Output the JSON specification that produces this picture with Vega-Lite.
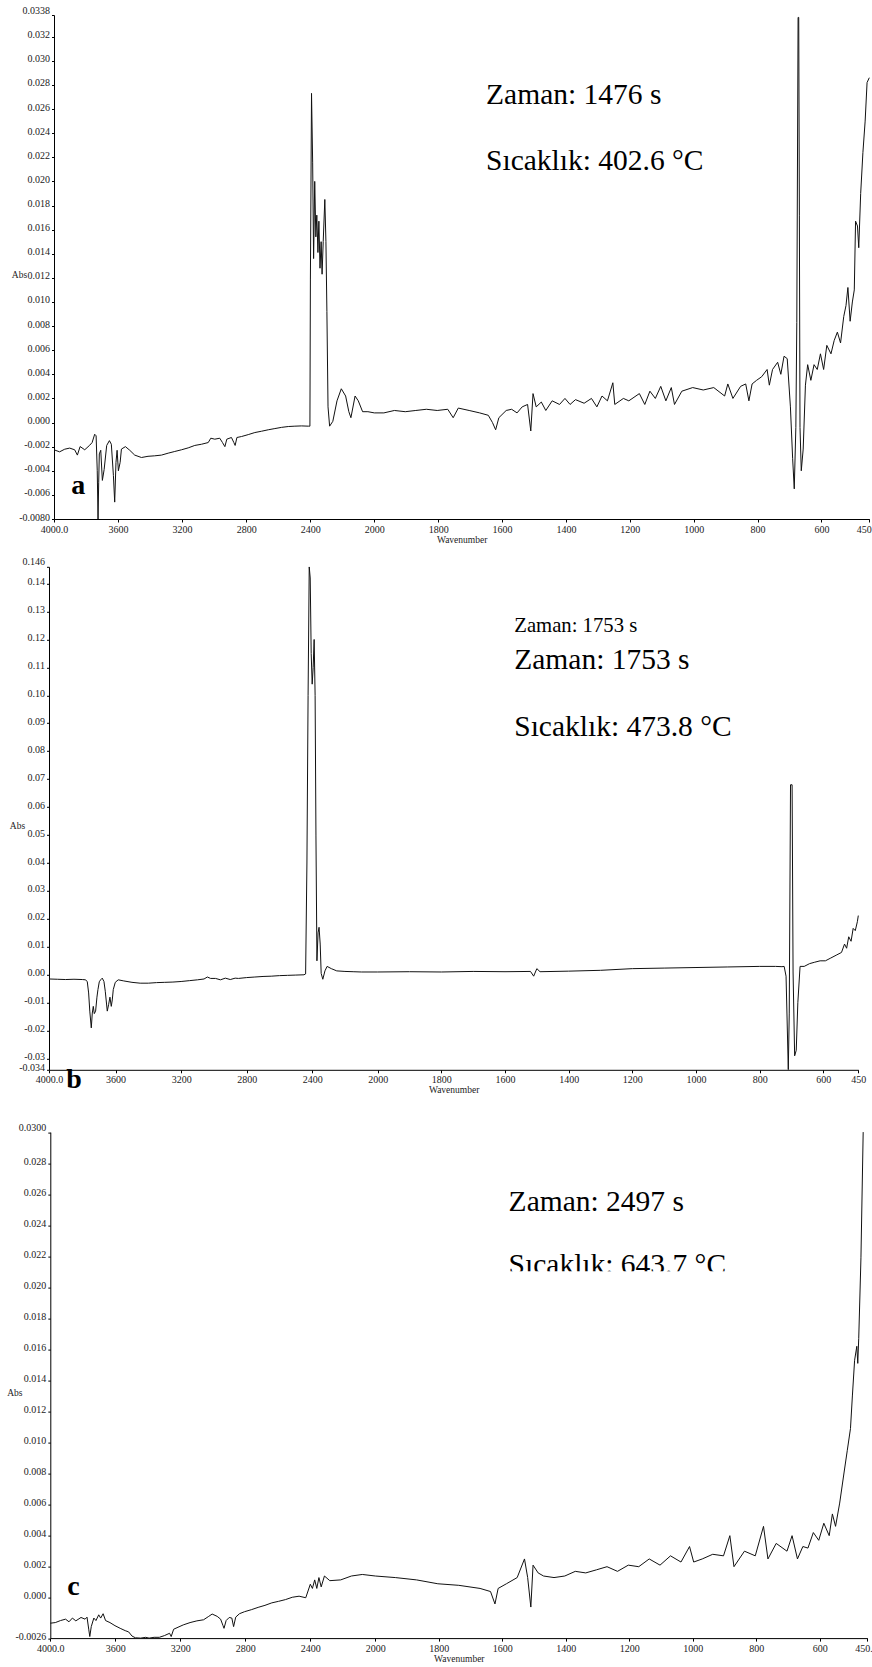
{
  "$schema": "https://vega.github.io/schema/vega-lite/v6.json",
  "background": "white",
  "padding": {"left": 6, "top": 5, "right": 0, "bottom": 0},
  "spacing": 47.8,
  "bounds": "flush",
  "config": {
    "view": {"stroke": null},
    "axis": {
      "labelFont": "Liberation Serif", "titleFont": "Liberation Serif",
      "labelFontSize": 10, "titleFontSize": 9.5, "titleFontWeight": "normal",
      "labelColor": "#222", "titleColor": "#222",
      "domainColor": "#000", "tickColor": "#000", "domainWidth": 1, "tickWidth": 1,
      "grid": false, "labelOverlap": false, "labelFlush": false, "labelBound": false
    },
    "axisX": {"tickSize": 3, "labelPadding": 2, "titlePadding": 0},
    "axisY": {"tickSize": 2.5, "labelPadding": 2, "labelBaseline": "alphabetic", "titleAngle": 0, "titleAlign": "center", "titleBaseline": "middle", "titleY": 259}
  },
  "datasets": {
    "a": [
      {"w":4000,"A":-0.00226},{"w":3965,"A":-0.00243},{"w":3933,"A":-0.00221},{"w":3902,"A":-0.00212},{"w":3871,"A":-0.00226},{"w":3854,"A":-0.0027},{"w":3837,"A":-0.00199},{"w":3808,"A":-0.00226},{"w":3777,"A":-0.00188},{"w":3762,"A":-0.00166},{"w":3746,"A":-0.00097},{"w":3737,"A":-0.0011},{"w":3730,"A":-0.004},{"w":3725,"A":-0.008},{"w":3721,"A":-0.005},{"w":3717,"A":-0.0026},{"w":3708,"A":-0.0023},{"w":3698,"A":-0.0048},{"w":3687,"A":-0.0039},{"w":3671,"A":-0.0019},{"w":3654,"A":-0.0015},{"w":3642,"A":-0.0018},{"w":3629,"A":-0.0044},{"w":3621,"A":-0.0066},{"w":3613,"A":-0.0033},{"w":3606,"A":-0.0023},{"w":3598,"A":-0.004},{"w":3587,"A":-0.0033},{"w":3579,"A":-0.0022},{"w":3554,"A":-0.002},{"w":3527,"A":-0.0023},{"w":3496,"A":-0.0027},{"w":3454,"A":-0.0029},{"w":3413,"A":-0.0028},{"w":3371,"A":-0.00276},{"w":3329,"A":-0.0027},{"w":3287,"A":-0.00254},{"w":3246,"A":-0.0024},{"w":3204,"A":-0.00226},{"w":3162,"A":-0.0021},{"w":3121,"A":-0.0019},{"w":3079,"A":-0.0018},{"w":3037,"A":-0.00166},{"w":3021,"A":-0.0013},{"w":2996,"A":-0.00138},{"w":2965,"A":-0.0013},{"w":2948,"A":-0.00166},{"w":2933,"A":-0.002},{"w":2921,"A":-0.00138},{"w":2892,"A":-0.00124},{"w":2877,"A":-0.00166},{"w":2869,"A":-0.0019},{"w":2858,"A":-0.00124},{"w":2829,"A":-0.00116},{"w":2787,"A":-0.001},{"w":2746,"A":-0.00083},{"w":2704,"A":-0.00072},{"w":2662,"A":-0.0006},{"w":2621,"A":-0.0005},{"w":2579,"A":-0.0004},{"w":2537,"A":-0.00033},{"w":2496,"A":-0.0003},{"w":2454,"A":-0.00028},{"w":2412,"A":-0.0003},{"w":2402,"A":-0.0003},
      {"w":2399,"A":0.0119},{"w":2392,"A":0.0273},{"w":2385,"A":0.0216},{"w":2379,"A":0.0136},{"w":2372,"A":0.02},{"w":2365,"A":0.0154},{"w":2359,"A":0.0172},{"w":2352,"A":0.0141},{"w":2346,"A":0.0167},{"w":2339,"A":0.0128},{"w":2332,"A":0.015},{"w":2326,"A":0.0123},{"w":2319,"A":0.015},{"w":2309,"A":0.0185},{"w":2302,"A":0.015},{"w":2296,"A":0.0092},{"w":2289,"A":0.0013},{"w":2279,"A":-0.0003},{"w":2259,"A":0.0001},{"w":2233,"A":0.0018},{"w":2206,"A":0.0028},{"w":2179,"A":0.0022},{"w":2159,"A":0.0009},{"w":2146,"A":0.0004},{"w":2120,"A":0.0022},{"w":2100,"A":0.0018},{"w":2073,"A":0.0009},{"w":2040,"A":0.0009},{"w":2000,"A":0.0008},
      {"w":1970,"A":0.0008},{"w":1937,"A":0.001},{"w":1903,"A":0.0009},{"w":1870,"A":0.001},{"w":1837,"A":0.0011},{"w":1803,"A":0.001},{"w":1770,"A":0.0011},{"w":1753,"A":0.0004},{"w":1737,"A":0.0012},{"w":1703,"A":0.001},{"w":1670,"A":0.0008},{"w":1643,"A":0.0006},{"w":1630,"A":0.0},{"w":1620,"A":-0.0006},{"w":1610,"A":0.0004},{"w":1587,"A":0.001},{"w":1570,"A":0.0011},{"w":1553,"A":0.0008},{"w":1537,"A":0.0013},{"w":1520,"A":0.0015},{"w":1510,"A":-0.0007},{"w":1503,"A":0.0024},{"w":1493,"A":0.0013},{"w":1477,"A":0.0017},{"w":1463,"A":0.001},{"w":1443,"A":0.0018},{"w":1420,"A":0.0015},{"w":1403,"A":0.002},{"w":1387,"A":0.0015},{"w":1370,"A":0.0019},{"w":1343,"A":0.0016},{"w":1320,"A":0.002},{"w":1303,"A":0.0013},{"w":1287,"A":0.0022},{"w":1270,"A":0.0018},{"w":1253,"A":0.0033},{"w":1247,"A":0.0015},{"w":1220,"A":0.002},{"w":1203,"A":0.0018},{"w":1170,"A":0.0024},{"w":1153,"A":0.0015},{"w":1137,"A":0.0026},{"w":1120,"A":0.002},{"w":1103,"A":0.003},{"w":1087,"A":0.0018},{"w":1070,"A":0.0029},{"w":1060,"A":0.0015},{"w":1037,"A":0.0026},{"w":1003,"A":0.0029},{"w":970,"A":0.0027},{"w":937,"A":0.0029},{"w":903,"A":0.0022},{"w":893,"A":0.0032},{"w":877,"A":0.002},{"w":853,"A":0.003},{"w":837,"A":0.0032},{"w":827,"A":0.0018},{"w":817,"A":0.0032},{"w":803,"A":0.0035},{"w":787,"A":0.0038},{"w":770,"A":0.0044},{"w":763,"A":0.0031},{"w":753,"A":0.0044},{"w":737,"A":0.005},{"w":727,"A":0.004},{"w":717,"A":0.0055},{"w":707,"A":0.0053},{"w":697,"A":0.0013},{"w":690,"A":-0.003},{"w":685,"A":-0.0055},{"w":680,"A":-0.0004},{"w":677,"A":0.0083},{"w":673,"A":0.0336},{"w":671,"A":0.0336},{"w":669,"A":0.0172},{"w":667,"A":-0.0004},{"w":663,"A":-0.004},{"w":657,"A":-0.0022},{"w":650,"A":0.0031},{"w":643,"A":0.0048},{"w":633,"A":0.0035},{"w":623,"A":0.0048},{"w":613,"A":0.0044},{"w":603,"A":0.0057},{"w":593,"A":0.0044},{"w":583,"A":0.0064},{"w":570,"A":0.0057},{"w":560,"A":0.0068},{"w":550,"A":0.0075},{"w":540,"A":0.0066},{"w":530,"A":0.0088},{"w":523,"A":0.0097},{"w":517,"A":0.0112},{"w":510,"A":0.0084},{"w":503,"A":0.01},{"w":497,"A":0.011},{"w":493,"A":0.0167},{"w":487,"A":0.0163},{"w":483,"A":0.0145},{"w":477,"A":0.019},{"w":470,"A":0.0224},{"w":463,"A":0.025},{"w":457,"A":0.0282},{"w":450,"A":0.0286}
    ],
    "b": [
      {"w":4000,"A":-0.0015},{"w":3950,"A":-0.0016},{"w":3900,"A":-0.0017},{"w":3850,"A":-0.0016},{"w":3800,"A":-0.0017},{"w":3780,"A":-0.0018},{"w":3770,"A":-0.0025},{"w":3762,"A":-0.0065},{"w":3755,"A":-0.013},{"w":3746,"A":-0.019},{"w":3740,"A":-0.0137},{"w":3734,"A":-0.0113},{"w":3728,"A":-0.0139},{"w":3720,"A":-0.013},{"w":3712,"A":-0.008},{"w":3706,"A":-0.0053},{"w":3698,"A":-0.0025},{"w":3690,"A":-0.0018},{"w":3680,"A":-0.0012},{"w":3670,"A":-0.0024},{"w":3662,"A":-0.0059},{"w":3650,"A":-0.013},{"w":3642,"A":-0.0107},{"w":3634,"A":-0.008},{"w":3626,"A":-0.0113},{"w":3620,"A":-0.009},{"w":3614,"A":-0.0053},{"w":3602,"A":-0.0027},{"w":3584,"A":-0.0018},{"w":3550,"A":-0.0022},{"w":3500,"A":-0.0027},{"w":3450,"A":-0.003},{"w":3400,"A":-0.003},{"w":3350,"A":-0.0028},{"w":3300,"A":-0.0027},{"w":3250,"A":-0.0026},{"w":3200,"A":-0.0024},{"w":3150,"A":-0.0021},{"w":3100,"A":-0.0018},{"w":3060,"A":-0.0015},{"w":3040,"A":-0.0008},{"w":3020,"A":-0.0013},{"w":2990,"A":-0.0013},{"w":2960,"A":-0.0018},{"w":2930,"A":-0.0012},{"w":2900,"A":-0.0017},{"w":2870,"A":-0.0012},{"w":2850,"A":-0.0013},{"w":2800,"A":-0.001},{"w":2750,"A":-0.0008},{"w":2700,"A":-0.0006},{"w":2650,"A":-0.0005},{"w":2600,"A":-0.0003},{"w":2550,"A":-0.0002},{"w":2500,"A":-0.0001},{"w":2450,"A":0.0},
      {"w":2440,"A":0.0003},{"w":2432,"A":0.04},{"w":2425,"A":0.1},{"w":2418,"A":0.146},{"w":2412,"A":0.142},{"w":2406,"A":0.115},{"w":2400,"A":0.104},{"w":2394,"A":0.11},{"w":2388,"A":0.12},{"w":2382,"A":0.1},{"w":2377,"A":0.05},{"w":2371,"A":0.005},{"w":2364,"A":0.015},{"w":2358,"A":0.017},{"w":2351,"A":0.011},{"w":2345,"A":0.0005},{"w":2335,"A":-0.0016},{"w":2322,"A":0.0014},{"w":2309,"A":0.003},{"w":2283,"A":0.0022},{"w":2250,"A":0.0014},{"w":2200,"A":0.0012},{"w":2150,"A":0.0011},{"w":2100,"A":0.001},{"w":2000,"A":0.001},
      {"w":1900,"A":0.0011},{"w":1800,"A":0.001},{"w":1700,"A":0.0012},{"w":1600,"A":0.0011},{"w":1520,"A":0.0012},{"w":1510,"A":-0.0005},{"w":1500,"A":0.0022},{"w":1490,"A":0.0011},{"w":1400,"A":0.0013},{"w":1300,"A":0.0016},{"w":1200,"A":0.0022},{"w":1100,"A":0.0024},{"w":1000,"A":0.0026},{"w":900,"A":0.0028},{"w":800,"A":0.003},{"w":750,"A":0.003},{"w":730,"A":0.0029},{"w":723,"A":0.003},{"w":717,"A":-0.0005},{"w":710,"A":-0.034},{"w":707,"A":-0.014},{"w":703,"A":0.068},{"w":698,"A":0.068},{"w":695,"A":0.001},{"w":690,"A":-0.029},{"w":685,"A":-0.027},{"w":680,"A":-0.01},{"w":673,"A":0.003},{"w":660,"A":0.003},{"w":643,"A":0.004},{"w":627,"A":0.0045},{"w":610,"A":0.005},{"w":591,"A":0.005},{"w":568,"A":0.006},{"w":545,"A":0.007},{"w":522,"A":0.008},{"w":509,"A":0.011},{"w":500,"A":0.0095},{"w":491,"A":0.0136},{"w":481,"A":0.012},{"w":472,"A":0.0166},{"w":463,"A":0.0158},{"w":454,"A":0.019},{"w":450,"A":0.0212}
    ],
    "c": [
      {"w":4000,"A":-0.00164},{"w":3969,"A":-0.0016},{"w":3937,"A":-0.00147},{"w":3906,"A":-0.00138},{"w":3885,"A":-0.00155},{"w":3864,"A":-0.00131},{"w":3843,"A":-0.00149},{"w":3811,"A":-0.00127},{"w":3786,"A":-0.00138},{"w":3774,"A":-0.00125},{"w":3763,"A":-0.00207},{"w":3757,"A":-0.0025},{"w":3748,"A":-0.00186},{"w":3732,"A":-0.00131},{"w":3719,"A":-0.00147},{"w":3702,"A":-0.0011},{"w":3690,"A":-0.00131},{"w":3675,"A":-0.00103},{"w":3660,"A":-0.00147},{"w":3633,"A":-0.0016},{"w":3602,"A":-0.0018},{"w":3570,"A":-0.00197},{"w":3539,"A":-0.00212},{"w":3518,"A":-0.0022},{"w":3497,"A":-0.00247},{"w":3476,"A":-0.00258},{"w":3444,"A":-0.0026},{"w":3413,"A":-0.00255},{"w":3392,"A":-0.0026},{"w":3361,"A":-0.00255},{"w":3329,"A":-0.00255},{"w":3298,"A":-0.00244},{"w":3266,"A":-0.00229},{"w":3256,"A":-0.0025},{"w":3241,"A":-0.00203},{"w":3214,"A":-0.0019},{"w":3182,"A":-0.00175},{"w":3140,"A":-0.0016},{"w":3098,"A":-0.00149},{"w":3057,"A":-0.00142},{"w":3025,"A":-0.0012},{"w":3004,"A":-0.00105},{"w":2973,"A":-0.0012},{"w":2952,"A":-0.00138},{"w":2937,"A":-0.0018},{"w":2931,"A":-0.00197},{"w":2918,"A":-0.00147},{"w":2899,"A":-0.00127},{"w":2883,"A":-0.00131},{"w":2872,"A":-0.00186},{"w":2859,"A":-0.00125},{"w":2836,"A":-0.00103},{"w":2805,"A":-0.0009},{"w":2763,"A":-0.00077},{"w":2721,"A":-0.00062},{"w":2679,"A":-0.00049},{"w":2637,"A":-0.00033},{"w":2595,"A":-0.00023},{"w":2553,"A":-0.00012},{"w":2511,"A":0.00003},{"w":2469,"A":0.0001},{"w":2428,"A":0.0},
      {"w":2400,"A":0.00087},{"w":2387,"A":0.0006},{"w":2373,"A":0.00115},{"w":2360,"A":0.0006},{"w":2347,"A":0.0013},{"w":2333,"A":0.0007},{"w":2313,"A":0.0014},{"w":2280,"A":0.0011},{"w":2213,"A":0.00115},{"w":2147,"A":0.0014},{"w":2080,"A":0.0015},{"w":2000,"A":0.0014},{"w":1937,"A":0.0013},{"w":1870,"A":0.00115},{"w":1803,"A":0.0009},{"w":1737,"A":0.0008},{"w":1670,"A":0.0006},{"w":1637,"A":0.0004},{"w":1623,"A":-0.0004},{"w":1613,"A":0.0006},{"w":1587,"A":0.0009},{"w":1553,"A":0.0013},{"w":1530,"A":0.0025},{"w":1520,"A":0.0013},{"w":1510,"A":-0.0006},{"w":1503,"A":0.0021},{"w":1487,"A":0.0016},{"w":1470,"A":0.0014},{"w":1437,"A":0.0013},{"w":1403,"A":0.0014},{"w":1370,"A":0.0017},{"w":1337,"A":0.0016},{"w":1303,"A":0.0018},{"w":1270,"A":0.002},{"w":1237,"A":0.0017},{"w":1203,"A":0.0021},{"w":1170,"A":0.002},{"w":1137,"A":0.0025},{"w":1103,"A":0.0021},{"w":1070,"A":0.0027},{"w":1037,"A":0.0023},{"w":1010,"A":0.0033},{"w":997,"A":0.0023},{"w":970,"A":0.0025},{"w":937,"A":0.0028},{"w":903,"A":0.0027},{"w":883,"A":0.004},{"w":870,"A":0.002},{"w":837,"A":0.003},{"w":803,"A":0.0027},{"w":777,"A":0.0046},{"w":763,"A":0.0025},{"w":737,"A":0.0035},{"w":703,"A":0.003},{"w":687,"A":0.004},{"w":670,"A":0.0025},{"w":653,"A":0.0033},{"w":637,"A":0.0032},{"w":620,"A":0.0042},{"w":603,"A":0.0037},{"w":587,"A":0.0048},{"w":570,"A":0.004},{"w":560,"A":0.0054},{"w":550,"A":0.0046},{"w":537,"A":0.0061},{"w":523,"A":0.0081},{"w":513,"A":0.0095},{"w":503,"A":0.0109},{"w":497,"A":0.013},{"w":490,"A":0.0153},{"w":483,"A":0.0162},{"w":480,"A":0.0151},{"w":477,"A":0.0167},{"w":470,"A":0.0219},{"w":463,"A":0.03}
    ],
    "notes": [
      {"p":"a","w":1650,"A":0.0264,"t":"Zaman: 1476 s"},
      {"p":"a","w":1650,"A":0.02095,"t":"Sıcaklık: 402.6 °C"},
      {"p":"b","w":1571,"A":0.1093,"t":"Zaman: 1753 s"},
      {"p":"b","w":1571,"A":0.0854,"t":"Sıcaklık: 473.8 °C"},
      {"p":"c","w":1580,"A":0.0249,"t":"Zaman: 2497 s"},
      {"p":"c","w":1580,"A":0.02083,"t":"Sıcaklık: 643.7 °C"}
    ],
    "small": [
      {"p":"b","w":1571,"A":0.1226,"t":"Zaman: 1753 s"}
    ],
    "letters": [
      {"p":"a","w":3892,"A":-0.0059,"t":"a"},
      {"p":"b","w":3896,"A":-0.0406,"t":"b"},
      {"p":"c","w":3896,"A":0.0002,"t":"c"}
    ],
    "mask": [
      {"w":1606,"w2":839,"A":0.02103,"A2":0.0199}
    ]
  },
  "vconcat": [
    {
      "width": 822, "height": 504,
      "encoding": {
        "x": {"field": "w", "type": "quantitative", "title": "Wavenumber",
          "scale": {"domain": [4000, 2000, 450], "range": [5, 325.3, 820.3]},
          "axis": {"values": [4000,3600,3200,2800,2400,2000,1800,1600,1400,1200,1000,800,600,450],
            "labelAlign": {"condition": {"test": "datum.value == 450", "value": "right"}, "value": "center"},
            "labelOffset": {"condition": {"test": "datum.value == 450", "value": 2}, "value": 0},
            "labelExpr": "datum.value == 4000 ? '4000.0' : format(datum.value, 'd')"}},
        "y": {"field": "A", "type": "quantitative", "title": "Abs",
          "scale": {"domain": [-0.008, 0.0338], "nice": false, "zero": false},
          "axis": {"offset": -5, "titleX": -35,
            "values": [0.0338,0.032,0.03,0.028,0.026,0.024,0.022,0.02,0.018,0.016,0.014,0.012,0.01,0.008,0.006,0.004,0.002,0,-0.002,-0.004,-0.006,-0.008],
            "labelOffset": {"condition": {"test": "datum.value == 0.0338", "value": -2}, "value": 1},
            "labelExpr": "datum.value == 0.0338 ? '0.0338' : datum.value == -0.008 ? '-0.0080' : replace(format(datum.value, '.3f'), '\u2212', '-')"}}
      },
      "layer": [
        {"data": {"name": "a"}, "mark": {"type": "line", "stroke": "#111", "strokeWidth": 1, "clip": true}},
        {"data": {"name": "notes"}, "transform": [{"filter": "datum.p == 'a'"}],
         "mark": {"type": "text", "font": "Liberation Serif", "fontSize": 29.5, "align": "left", "baseline": "alphabetic", "color": "#000"},
         "encoding": {"text": {"field": "t"}}},
        {"data": {"name": "letters"}, "transform": [{"filter": "datum.p == 'a'"}],
         "mark": {"type": "text", "font": "Liberation Serif", "fontSize": 28, "fontWeight": "bold", "align": "left", "baseline": "alphabetic", "color": "#000"},
         "encoding": {"text": {"field": "t"}}}
      ]
    },
    {
      "width": 822, "height": 503,
      "encoding": {
        "x": {"field": "w", "type": "quantitative", "title": "Wavenumber",
          "scale": {"domain": [4000, 3600, 2000, 600, 450], "range": [0, 66.6, 328.7, 774.3, 809.3]},
          "axis": {"values": [4000,3600,3200,2800,2400,2000,1800,1600,1400,1200,1000,800,600,450],
            "labelExpr": "datum.value == 4000 ? '4000.0' : format(datum.value, 'd')"}},
        "y": {"field": "A", "type": "quantitative", "title": "Abs",
          "scale": {"domain": [-0.034, 0.146], "nice": false, "zero": false},
          "axis": {"titleX": -32,
            "values": [0.146,0.14,0.13,0.12,0.11,0.1,0.09,0.08,0.07,0.06,0.05,0.04,0.03,0.02,0.01,0,-0.01,-0.02,-0.03,-0.034],
            "labelOffset": {"condition": {"test": "datum.value == 0.146", "value": -2}, "value": 1},
            "labelExpr": "datum.value == 0.146 ? '0.146' : datum.value == -0.034 ? '-0.034' : replace(format(datum.value, '.2f'), '\u2212', '-')"}}
      },
      "layer": [
        {"data": {"name": "b"}, "mark": {"type": "line", "stroke": "#111", "strokeWidth": 1, "clip": true}},
        {"data": {"name": "notes"}, "transform": [{"filter": "datum.p == 'b'"}],
         "mark": {"type": "text", "font": "Liberation Serif", "fontSize": 29.5, "align": "left", "baseline": "alphabetic", "color": "#000"},
         "encoding": {"text": {"field": "t"}}},
        {"data": {"name": "small"}, "transform": [{"filter": "datum.p == 'b'"}],
         "mark": {"type": "text", "font": "Liberation Serif", "fontSize": 20.7, "align": "left", "baseline": "alphabetic", "color": "#000"},
         "encoding": {"text": {"field": "t"}}},
        {"data": {"name": "letters"}, "transform": [{"filter": "datum.p == 'b'"}],
         "mark": {"type": "text", "font": "Liberation Serif", "fontSize": 28, "fontWeight": "bold", "align": "left", "baseline": "alphabetic", "color": "#000"},
         "encoding": {"text": {"field": "t"}}}
      ]
    },
    {
      "width": 822, "height": 520.5,
      "encoding": {
        "x": {"field": "w", "type": "quantitative", "title": "Wavenumber",
          "scale": {"domain": [4000, 2000, 450], "range": [1.3, 326.3, 818.3]},
          "axis": {"values": [4000,3600,3200,2800,2400,2000,1800,1600,1400,1200,1000,800,600,450],
            "labelAlign": {"condition": {"test": "datum.value == 450", "value": "right"}, "value": "center"},
            "labelOffset": {"condition": {"test": "datum.value == 450", "value": 5}, "value": 0},
            "labelExpr": "datum.value == 4000 ? '4000.0' : datum.value == 450 ? '450.' : format(datum.value, 'd')"}},
        "y": {"field": "A", "type": "quantitative", "title": "Abs",
          "scale": {"domain": [-0.0026, 0.03], "range": [520.5, 14.5], "nice": false, "zero": false},
          "axis": {"offset": -1.3, "titleX": -36, "titleY": 275,
            "values": [0.03,0.028,0.026,0.024,0.022,0.02,0.018,0.016,0.014,0.012,0.01,0.008,0.006,0.004,0.002,0,-0.0026],
            "labelOffset": {"condition": {"test": "datum.value == 0.03", "value": -2}, "value": 1},
            "labelExpr": "datum.value == 0.03 ? '0.0300' : datum.value == -0.0026 ? '-0.0026' : replace(format(datum.value, '.3f'), '\u2212', '-')"}}
      },
      "layer": [
        {"data": {"name": "c"}, "mark": {"type": "line", "stroke": "#111", "strokeWidth": 1, "clip": true}},
        {"data": {"name": "notes"}, "transform": [{"filter": "datum.p == 'c'"}],
         "mark": {"type": "text", "font": "Liberation Serif", "fontSize": 29.5, "align": "left", "baseline": "alphabetic", "color": "#000"},
         "encoding": {"text": {"field": "t"}}},
        {"data": {"name": "mask"},
         "mark": {"type": "rect", "fill": "white", "stroke": null},
         "encoding": {"x2": {"field": "w2"}, "y2": {"field": "A2"}}},
        {"data": {"name": "letters"}, "transform": [{"filter": "datum.p == 'c'"}],
         "mark": {"type": "text", "font": "Liberation Serif", "fontSize": 28, "fontWeight": "bold", "align": "left", "baseline": "alphabetic", "color": "#000"},
         "encoding": {"text": {"field": "t"}}}
      ]
    }
  ]
}
